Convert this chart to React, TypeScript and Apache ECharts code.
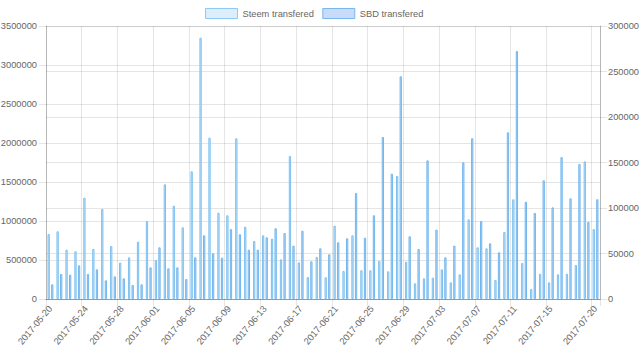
import React, { useEffect, useRef } from "react";
import * as echarts from "echarts";

const dates = [
  "2017-05-20", "2017-05-21", "2017-05-22", "2017-05-23", "2017-05-24", "2017-05-25", "2017-05-26", "2017-05-27",
  "2017-05-28", "2017-05-29", "2017-05-30", "2017-05-31", "2017-06-01", "2017-06-02", "2017-06-03", "2017-06-04",
  "2017-06-05", "2017-06-06", "2017-06-07", "2017-06-08", "2017-06-09", "2017-06-10", "2017-06-11", "2017-06-12",
  "2017-06-13", "2017-06-14", "2017-06-15", "2017-06-16", "2017-06-17", "2017-06-18", "2017-06-19", "2017-06-20",
  "2017-06-21", "2017-06-22", "2017-06-23", "2017-06-24", "2017-06-25", "2017-06-26", "2017-06-27", "2017-06-28",
  "2017-06-29", "2017-06-30", "2017-07-01", "2017-07-02", "2017-07-03", "2017-07-04", "2017-07-05", "2017-07-06",
  "2017-07-07", "2017-07-08", "2017-07-09", "2017-07-10", "2017-07-11", "2017-07-12", "2017-07-13", "2017-07-14",
  "2017-07-15", "2017-07-16", "2017-07-17", "2017-07-18", "2017-07-19", "2017-07-20",
];

const steemTransfered = [
  833000, 868000, 632000, 611000, 1299000, 641000, 1154000, 679000,
  466000, 534000, 735000, 1000000, 500000, 1470000, 1196000, 919000,
  1637000, 3350000, 2068000, 1106000, 1073000, 2060000, 927000, 744000,
  816000, 774000, 509000, 1833000, 470000, 282000, 538000, 278000,
  940000, 359000, 816000, 368000, 368000, 487000, 355000, 1577000,
  478000, 201000, 265000, 273000, 380000, 214000, 316000, 1021000,
  662000, 650000, 244000, 859000, 1278000, 461000, 128000, 324000,
  214000, 316000, 324000, 436000, 1765000, 897000,
];

const sbdTransfered = [
  16100, 27500, 26700, 37000, 27500, 32600, 20500, 24900,
  22700, 15400, 16100, 34800, 56800, 33700, 34800, 22000,
  45800, 70000, 50200, 45400, 76900, 71100, 54200, 54200,
  67800, 77700, 72500, 58600, 75000, 41400, 55700, 49100,
  62300, 66700, 116500, 67400, 92000, 178000, 137700, 244700,
  68900, 55000, 152400, 76200, 45800, 58600, 150200, 176600,
  85700, 61200, 51300, 183200, 272500, 106900, 94500, 130400,
  100700, 156000, 110600, 148400, 84600, 109600,
];

const seriesNames = ["Steem transfered", "SBD transfered"];

const FONT = "'Liberation Sans', Arial, Helvetica, sans-serif";
const TEXT = "#666";
const GRID = "rgba(0,0,0,0.1)";

const showTick = (i: number) => (i % 4 === 0 && i <= 56) || i === 61;
const plain = (v: number) => String(v);

const steemStyle = { color: "#cfe7fa", borderColor: "#7cc0f0", borderWidth: 1 };
const sbdStyle = { color: "#c0dcf7", borderColor: "#72b6ee", borderWidth: 1 };

export default function App() {
  const ref = useRef<HTMLDivElement>(null);
  useEffect(() => {
    if (!ref.current) return;
    const chart = echarts.init(ref.current, undefined, { renderer: "svg" });
    chart.setOption({
      animation: false,
      textStyle: { fontFamily: FONT },
      legend: {
        left: 205,
        top: 8,
        padding: 0,
        icon: "rect",
        itemWidth: 32,
        itemHeight: 10,
        itemGap: 8.5,
        textStyle: { fontSize: 9.3, color: TEXT, fontFamily: FONT },
        data: [
          { name: seriesNames[0], itemStyle: { color: "#dcedfb", borderColor: "#8ecaf4", borderWidth: 1 } },
          { name: seriesNames[1], itemStyle: { color: "#c8dbf8", borderColor: "#7ab6ef", borderWidth: 1 } },
        ],
      },
      grid: { left: 46, right: 40, top: 26, bottom: 61, containLabel: false, outerBoundsMode: "none" },
      xAxis: {
        type: "category",
        data: dates,
        boundaryGap: true,
        axisLine: { show: true, lineStyle: { color: "rgba(0,0,0,0.25)", width: 1 } },
        axisTick: { show: true, length: 7, interval: (i: number) => showTick(i), lineStyle: { color: GRID } },
        splitLine: { show: true, interval: (i: number) => showTick(i), lineStyle: { color: GRID, width: 1 } },
        axisLabel: {
          interval: (i: number) => showTick(i),
          rotate: 50,
          margin: 8,
          fontSize: 9.3,
          color: TEXT,
          fontFamily: FONT,
        },
      },
      yAxis: [
        {
          type: "value",
          min: 0,
          max: 3500000,
          interval: 500000,
          position: "left",
          axisLine: { show: true, lineStyle: { color: "rgba(0,0,0,0.2)" } },
          axisTick: { show: true, length: 7, lineStyle: { color: GRID } },
          splitLine: { show: true, lineStyle: { color: GRID } },
          axisLabel: { margin: 9, fontSize: 9.3, color: TEXT, fontFamily: FONT, formatter: plain },
        },
        {
          type: "value",
          min: 0,
          max: 300000,
          interval: 50000,
          position: "right",
          axisLine: { show: true, lineStyle: { color: "rgba(0,0,0,0.2)" } },
          axisTick: { show: true, length: 7, lineStyle: { color: GRID } },
          splitLine: { show: true, lineStyle: { color: GRID } },
          axisLabel: { margin: 8, fontSize: 9.3, color: TEXT, fontFamily: FONT, formatter: plain },
        },
      ],
      series: [
        {
          name: seriesNames[0],
          type: "bar",
          yAxisIndex: 0,
          data: steemTransfered,
          barWidth: 2.3,
          barGap: "56%",
          itemStyle: steemStyle,
        },
        {
          name: seriesNames[1],
          type: "bar",
          yAxisIndex: 1,
          data: sbdTransfered,
          barWidth: 2.3,
          barGap: "56%",
          itemStyle: sbdStyle,
        },
      ],
    });
    return () => chart.dispose();
  }, []);
  return (
    <div
      ref={ref}
      style={{ position: "fixed", left: 0, top: 0, width: 640, height: 360, background: "#fff" }}
    />
  );
}
